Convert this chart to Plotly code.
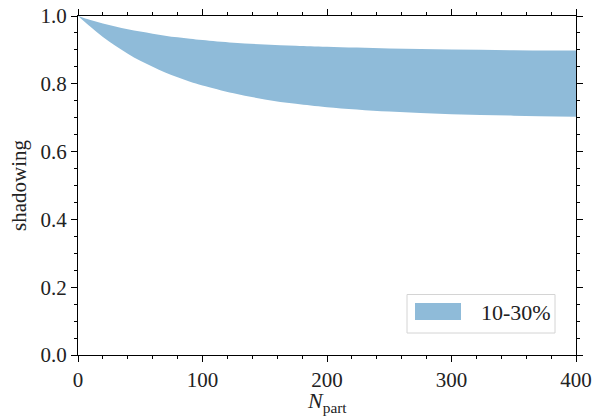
import plotly.graph_objects as go

npart = [0, 10, 20, 30, 40, 50, 60, 70, 80, 90, 100, 125, 150, 175, 200, 250, 300, 350, 400]
upper = [1.0, 0.988, 0.978, 0.969, 0.961, 0.954, 0.948, 0.942, 0.937, 0.933, 0.929, 0.921, 0.916, 0.912, 0.909, 0.904, 0.901, 0.899, 0.898]
lower = [1.0, 0.968, 0.938, 0.912, 0.889, 0.868, 0.850, 0.833, 0.819, 0.806, 0.795, 0.772, 0.754, 0.741, 0.731, 0.718, 0.710, 0.706, 0.703]
label = "10-30%"
x_title = "<i>N</i><sub>part</sub>"
y_title = "shadowing"

fill_col = "#8fbbd9"
font_fam = "Liberation Serif"
txt_col = "#222222"

fig = go.Figure()
fig.add_trace(go.Scatter(x=npart, y=lower, mode="lines", line=dict(width=0, shape="spline"),
                         showlegend=False, hoverinfo="skip"))
fig.add_trace(go.Scatter(x=npart, y=upper, mode="lines", line=dict(width=0, shape="spline"),
                         fill="tonexty", fillcolor=fill_col, name=label, showlegend=False))

axis_common = dict(showline=True, linecolor="black", linewidth=1, mirror="allticks",
                   ticks="outside", ticklen=6, tickwidth=1, tickcolor="black",
                   showgrid=False, zeroline=False, automargin=False,
                   tickfont=dict(family=font_fam, size=21, color=txt_col))

fig.update_xaxes(range=[0, 400], dtick=100, tick0=0,
                 minor=dict(ticks="outside", ticklen=3, dtick=20, tickcolor="black", showgrid=False),
                 **axis_common)
fig.update_yaxes(range=[0, 1.0], dtick=0.2, tick0=0, tickformat=".1f",
                 minor=dict(ticks="outside", ticklen=3, dtick=0.05, tickcolor="black", showgrid=False),
                 title=dict(text=y_title, font=dict(family=font_fam, size=21, color=txt_col), standoff=8),
                 **axis_common)

def px_x(p):
    return (p - 78) / 498.0

def px_y(p):
    return (355 - p) / 339.0

fig.add_annotation(xref="paper", yref="paper", x=0.5, y=px_y(386), text=x_title,
                   showarrow=False, xanchor="center", yanchor="top",
                   font=dict(family=font_fam, size=22, color=txt_col))

fig.add_shape(type="rect", xref="paper", yref="paper",
              x0=px_x(407), x1=px_x(555), y0=px_y(333), y1=px_y(294.5),
              line=dict(color="#d4d4d4", width=1), fillcolor="rgba(255,255,255,0.8)", layer="above")
fig.add_shape(type="rect", xref="paper", yref="paper",
              x0=px_x(415), x1=px_x(461), y0=px_y(320), y1=px_y(303),
              line=dict(width=0), fillcolor=fill_col, layer="above")
fig.add_annotation(xref="paper", yref="paper", x=px_x(479), y=px_y(312), text=label,
                   showarrow=False, xanchor="left", yanchor="middle",
                   font=dict(family=font_fam, size=22, color=txt_col))

fig.update_layout(width=601, height=416, margin=dict(l=78, r=25, t=16, b=61),
                  plot_bgcolor="white", paper_bgcolor="white", showlegend=False)
fig.write_html("out.html", config={"displayModeBar": False},
               post_script="document.body.style.margin='0px';document.body.style.padding='0px';")
